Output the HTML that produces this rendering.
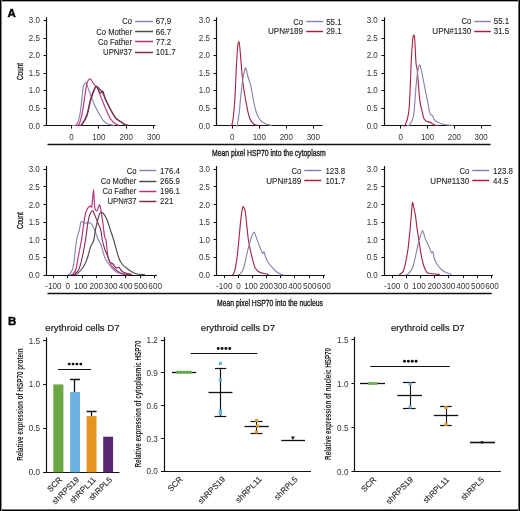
<!DOCTYPE html><html><head><meta charset="utf-8"><style>html,body{margin:0;padding:0;background:#fff;overflow:hidden}svg{display:block;will-change:transform}</style></head><body>
<svg width="520" height="511" viewBox="0 0 520 511" style="font-family:'Liberation Sans',sans-serif">
<rect x="0" y="0" width="520" height="511" fill="#fff"/>
<text x="7.4" y="17" font-size="11.5" font-weight="bold" fill="#000" stroke="#000" stroke-width="0.35">A</text>
<line x1="46.50" y1="17.30" x2="46.50" y2="125.60" stroke="#111" stroke-width="1.2"/>
<line x1="45.90" y1="125.50" x2="155.50" y2="125.50" stroke="#111" stroke-width="1.2"/>
<line x1="43.50" y1="125.50" x2="46.50" y2="125.50" stroke="#111" stroke-width="1"/>
<text transform="translate(39.90,128.50) scale(0.93,1)" text-anchor="end" font-size="8.6" fill="#333" >0.0</text>
<line x1="43.50" y1="108.50" x2="46.50" y2="108.50" stroke="#111" stroke-width="1"/>
<text transform="translate(39.90,110.98) scale(0.93,1)" text-anchor="end" font-size="8.6" fill="#333" >0.5</text>
<line x1="43.50" y1="90.50" x2="46.50" y2="90.50" stroke="#111" stroke-width="1"/>
<text transform="translate(39.90,93.47) scale(0.93,1)" text-anchor="end" font-size="8.6" fill="#333" >1.0</text>
<line x1="43.50" y1="73.50" x2="46.50" y2="73.50" stroke="#111" stroke-width="1"/>
<text transform="translate(39.90,75.95) scale(0.93,1)" text-anchor="end" font-size="8.6" fill="#333" >1.5</text>
<line x1="43.50" y1="55.50" x2="46.50" y2="55.50" stroke="#111" stroke-width="1"/>
<text transform="translate(39.90,58.43) scale(0.93,1)" text-anchor="end" font-size="8.6" fill="#333" >2.0</text>
<line x1="43.50" y1="38.50" x2="46.50" y2="38.50" stroke="#111" stroke-width="1"/>
<text transform="translate(39.90,40.92) scale(0.93,1)" text-anchor="end" font-size="8.6" fill="#333" >2.5</text>
<line x1="43.50" y1="20.50" x2="46.50" y2="20.50" stroke="#111" stroke-width="1"/>
<text transform="translate(39.90,23.40) scale(0.93,1)" text-anchor="end" font-size="8.6" fill="#333" >3.0</text>
<line x1="71.50" y1="125.60" x2="71.50" y2="128.60" stroke="#111" stroke-width="1"/>
<text transform="translate(71.40,139.60) scale(0.93,1)" text-anchor="middle" font-size="8.6" fill="#333" >0</text>
<line x1="98.50" y1="125.60" x2="98.50" y2="128.60" stroke="#111" stroke-width="1"/>
<text transform="translate(98.80,139.60) scale(0.93,1)" text-anchor="middle" font-size="8.6" fill="#333" >100</text>
<line x1="126.50" y1="125.60" x2="126.50" y2="128.60" stroke="#111" stroke-width="1"/>
<text transform="translate(126.20,139.60) scale(0.93,1)" text-anchor="middle" font-size="8.6" fill="#333" >200</text>
<line x1="153.50" y1="125.60" x2="153.50" y2="128.60" stroke="#111" stroke-width="1"/>
<text transform="translate(153.60,139.60) scale(0.93,1)" text-anchor="middle" font-size="8.6" fill="#333" >300</text>
<line x1="216.50" y1="17.30" x2="216.50" y2="125.60" stroke="#111" stroke-width="1.2"/>
<line x1="215.90" y1="125.50" x2="322.50" y2="125.50" stroke="#111" stroke-width="1.2"/>
<line x1="213.50" y1="125.50" x2="216.50" y2="125.50" stroke="#111" stroke-width="1"/>
<text transform="translate(209.90,128.50) scale(0.93,1)" text-anchor="end" font-size="8.6" fill="#333" >0.0</text>
<line x1="213.50" y1="108.50" x2="216.50" y2="108.50" stroke="#111" stroke-width="1"/>
<text transform="translate(209.90,110.98) scale(0.93,1)" text-anchor="end" font-size="8.6" fill="#333" >0.5</text>
<line x1="213.50" y1="90.50" x2="216.50" y2="90.50" stroke="#111" stroke-width="1"/>
<text transform="translate(209.90,93.47) scale(0.93,1)" text-anchor="end" font-size="8.6" fill="#333" >1.0</text>
<line x1="213.50" y1="73.50" x2="216.50" y2="73.50" stroke="#111" stroke-width="1"/>
<text transform="translate(209.90,75.95) scale(0.93,1)" text-anchor="end" font-size="8.6" fill="#333" >1.5</text>
<line x1="213.50" y1="55.50" x2="216.50" y2="55.50" stroke="#111" stroke-width="1"/>
<text transform="translate(209.90,58.43) scale(0.93,1)" text-anchor="end" font-size="8.6" fill="#333" >2.0</text>
<line x1="213.50" y1="38.50" x2="216.50" y2="38.50" stroke="#111" stroke-width="1"/>
<text transform="translate(209.90,40.92) scale(0.93,1)" text-anchor="end" font-size="8.6" fill="#333" >2.5</text>
<line x1="213.50" y1="20.50" x2="216.50" y2="20.50" stroke="#111" stroke-width="1"/>
<text transform="translate(209.90,23.40) scale(0.93,1)" text-anchor="end" font-size="8.6" fill="#333" >3.0</text>
<line x1="232.50" y1="125.60" x2="232.50" y2="128.60" stroke="#111" stroke-width="1"/>
<text transform="translate(232.30,139.60) scale(0.93,1)" text-anchor="middle" font-size="8.6" fill="#333" >0</text>
<line x1="259.50" y1="125.60" x2="259.50" y2="128.60" stroke="#111" stroke-width="1"/>
<text transform="translate(259.30,139.60) scale(0.93,1)" text-anchor="middle" font-size="8.6" fill="#333" >100</text>
<line x1="286.50" y1="125.60" x2="286.50" y2="128.60" stroke="#111" stroke-width="1"/>
<text transform="translate(286.30,139.60) scale(0.93,1)" text-anchor="middle" font-size="8.6" fill="#333" >200</text>
<line x1="313.50" y1="125.60" x2="313.50" y2="128.60" stroke="#111" stroke-width="1"/>
<text transform="translate(313.30,139.60) scale(0.93,1)" text-anchor="middle" font-size="8.6" fill="#333" >300</text>
<line x1="384.50" y1="17.30" x2="384.50" y2="125.60" stroke="#111" stroke-width="1.2"/>
<line x1="383.80" y1="125.50" x2="491.25" y2="125.50" stroke="#111" stroke-width="1.2"/>
<line x1="381.40" y1="125.50" x2="384.40" y2="125.50" stroke="#111" stroke-width="1"/>
<text transform="translate(377.80,128.50) scale(0.93,1)" text-anchor="end" font-size="8.6" fill="#333" >0.0</text>
<line x1="381.40" y1="108.50" x2="384.40" y2="108.50" stroke="#111" stroke-width="1"/>
<text transform="translate(377.80,110.98) scale(0.93,1)" text-anchor="end" font-size="8.6" fill="#333" >0.5</text>
<line x1="381.40" y1="90.50" x2="384.40" y2="90.50" stroke="#111" stroke-width="1"/>
<text transform="translate(377.80,93.47) scale(0.93,1)" text-anchor="end" font-size="8.6" fill="#333" >1.0</text>
<line x1="381.40" y1="73.50" x2="384.40" y2="73.50" stroke="#111" stroke-width="1"/>
<text transform="translate(377.80,75.95) scale(0.93,1)" text-anchor="end" font-size="8.6" fill="#333" >1.5</text>
<line x1="381.40" y1="55.50" x2="384.40" y2="55.50" stroke="#111" stroke-width="1"/>
<text transform="translate(377.80,58.43) scale(0.93,1)" text-anchor="end" font-size="8.6" fill="#333" >2.0</text>
<line x1="381.40" y1="38.50" x2="384.40" y2="38.50" stroke="#111" stroke-width="1"/>
<text transform="translate(377.80,40.92) scale(0.93,1)" text-anchor="end" font-size="8.6" fill="#333" >2.5</text>
<line x1="381.40" y1="20.50" x2="384.40" y2="20.50" stroke="#111" stroke-width="1"/>
<text transform="translate(377.80,23.40) scale(0.93,1)" text-anchor="end" font-size="8.6" fill="#333" >3.0</text>
<line x1="400.50" y1="125.60" x2="400.50" y2="128.60" stroke="#111" stroke-width="1"/>
<text transform="translate(400.75,139.60) scale(0.93,1)" text-anchor="middle" font-size="8.6" fill="#333" >0</text>
<line x1="427.50" y1="125.60" x2="427.50" y2="128.60" stroke="#111" stroke-width="1"/>
<text transform="translate(427.55,139.60) scale(0.93,1)" text-anchor="middle" font-size="8.6" fill="#333" >100</text>
<line x1="454.50" y1="125.60" x2="454.50" y2="128.60" stroke="#111" stroke-width="1"/>
<text transform="translate(454.35,139.60) scale(0.93,1)" text-anchor="middle" font-size="8.6" fill="#333" >200</text>
<line x1="481.50" y1="125.60" x2="481.50" y2="128.60" stroke="#111" stroke-width="1"/>
<text transform="translate(481.15,139.60) scale(0.93,1)" text-anchor="middle" font-size="8.6" fill="#333" >300</text>
<line x1="46.50" y1="166.00" x2="46.50" y2="275.20" stroke="#111" stroke-width="1.2"/>
<line x1="45.80" y1="275.50" x2="157.00" y2="275.50" stroke="#111" stroke-width="1.2"/>
<line x1="43.40" y1="275.50" x2="46.40" y2="275.50" stroke="#111" stroke-width="1"/>
<text transform="translate(39.80,278.10) scale(0.93,1)" text-anchor="end" font-size="8.6" fill="#333" >0.0</text>
<line x1="43.40" y1="257.50" x2="46.40" y2="257.50" stroke="#111" stroke-width="1"/>
<text transform="translate(39.80,260.45) scale(0.93,1)" text-anchor="end" font-size="8.6" fill="#333" >0.5</text>
<line x1="43.40" y1="239.50" x2="46.40" y2="239.50" stroke="#111" stroke-width="1"/>
<text transform="translate(39.80,242.80) scale(0.93,1)" text-anchor="end" font-size="8.6" fill="#333" >1.0</text>
<line x1="43.40" y1="222.50" x2="46.40" y2="222.50" stroke="#111" stroke-width="1"/>
<text transform="translate(39.80,225.15) scale(0.93,1)" text-anchor="end" font-size="8.6" fill="#333" >1.5</text>
<line x1="43.40" y1="204.50" x2="46.40" y2="204.50" stroke="#111" stroke-width="1"/>
<text transform="translate(39.80,207.50) scale(0.93,1)" text-anchor="end" font-size="8.6" fill="#333" >2.0</text>
<line x1="43.40" y1="186.50" x2="46.40" y2="186.50" stroke="#111" stroke-width="1"/>
<text transform="translate(39.80,189.85) scale(0.93,1)" text-anchor="end" font-size="8.6" fill="#333" >2.5</text>
<line x1="43.40" y1="169.50" x2="46.40" y2="169.50" stroke="#111" stroke-width="1"/>
<text transform="translate(39.80,172.20) scale(0.93,1)" text-anchor="end" font-size="8.6" fill="#333" >3.0</text>
<line x1="53.50" y1="275.20" x2="53.50" y2="278.20" stroke="#111" stroke-width="1"/>
<text transform="translate(53.40,289.00) scale(0.95,1)" text-anchor="middle" font-size="8.6" fill="#333" >-100</text>
<line x1="67.50" y1="275.20" x2="67.50" y2="278.20" stroke="#111" stroke-width="1"/>
<text transform="translate(67.85,289.00) scale(0.95,1)" text-anchor="middle" font-size="8.6" fill="#333" >0</text>
<line x1="82.50" y1="275.20" x2="82.50" y2="278.20" stroke="#111" stroke-width="1"/>
<text transform="translate(80.70,289.00) scale(0.95,1)" text-anchor="middle" font-size="8.6" fill="#333" >100</text>
<line x1="96.50" y1="275.20" x2="96.50" y2="278.20" stroke="#111" stroke-width="1"/>
<text transform="translate(96.25,289.00) scale(0.95,1)" text-anchor="middle" font-size="8.6" fill="#333" >200</text>
<line x1="111.50" y1="275.20" x2="111.50" y2="278.20" stroke="#111" stroke-width="1"/>
<text transform="translate(110.70,289.00) scale(0.95,1)" text-anchor="middle" font-size="8.6" fill="#333" >300</text>
<line x1="125.50" y1="275.20" x2="125.50" y2="278.20" stroke="#111" stroke-width="1"/>
<text transform="translate(125.65,289.00) scale(0.95,1)" text-anchor="middle" font-size="8.6" fill="#333" >400</text>
<line x1="140.50" y1="275.20" x2="140.50" y2="278.20" stroke="#111" stroke-width="1"/>
<text transform="translate(140.70,289.00) scale(0.95,1)" text-anchor="middle" font-size="8.6" fill="#333" >500</text>
<line x1="154.50" y1="275.20" x2="154.50" y2="278.20" stroke="#111" stroke-width="1"/>
<text transform="translate(155.15,289.00) scale(0.95,1)" text-anchor="middle" font-size="8.6" fill="#333" >600</text>
<line x1="216.50" y1="166.00" x2="216.50" y2="275.20" stroke="#111" stroke-width="1.2"/>
<line x1="216.00" y1="275.50" x2="325.00" y2="275.50" stroke="#111" stroke-width="1.2"/>
<line x1="213.60" y1="275.50" x2="216.60" y2="275.50" stroke="#111" stroke-width="1"/>
<text transform="translate(210.00,278.10) scale(0.93,1)" text-anchor="end" font-size="8.6" fill="#333" >0.0</text>
<line x1="213.60" y1="257.50" x2="216.60" y2="257.50" stroke="#111" stroke-width="1"/>
<text transform="translate(210.00,260.45) scale(0.93,1)" text-anchor="end" font-size="8.6" fill="#333" >0.5</text>
<line x1="213.60" y1="239.50" x2="216.60" y2="239.50" stroke="#111" stroke-width="1"/>
<text transform="translate(210.00,242.80) scale(0.93,1)" text-anchor="end" font-size="8.6" fill="#333" >1.0</text>
<line x1="213.60" y1="222.50" x2="216.60" y2="222.50" stroke="#111" stroke-width="1"/>
<text transform="translate(210.00,225.15) scale(0.93,1)" text-anchor="end" font-size="8.6" fill="#333" >1.5</text>
<line x1="213.60" y1="204.50" x2="216.60" y2="204.50" stroke="#111" stroke-width="1"/>
<text transform="translate(210.00,207.50) scale(0.93,1)" text-anchor="end" font-size="8.6" fill="#333" >2.0</text>
<line x1="213.60" y1="186.50" x2="216.60" y2="186.50" stroke="#111" stroke-width="1"/>
<text transform="translate(210.00,189.85) scale(0.93,1)" text-anchor="end" font-size="8.6" fill="#333" >2.5</text>
<line x1="213.60" y1="169.50" x2="216.60" y2="169.50" stroke="#111" stroke-width="1"/>
<text transform="translate(210.00,172.20) scale(0.93,1)" text-anchor="end" font-size="8.6" fill="#333" >3.0</text>
<line x1="224.50" y1="275.20" x2="224.50" y2="278.20" stroke="#111" stroke-width="1"/>
<text transform="translate(224.25,289.00) scale(0.95,1)" text-anchor="middle" font-size="8.6" fill="#333" >-100</text>
<line x1="238.50" y1="275.20" x2="238.50" y2="278.20" stroke="#111" stroke-width="1"/>
<text transform="translate(238.40,289.00) scale(0.95,1)" text-anchor="middle" font-size="8.6" fill="#333" >0</text>
<line x1="252.50" y1="275.20" x2="252.50" y2="278.20" stroke="#111" stroke-width="1"/>
<text transform="translate(250.95,289.00) scale(0.95,1)" text-anchor="middle" font-size="8.6" fill="#333" >100</text>
<line x1="266.50" y1="275.20" x2="266.50" y2="278.20" stroke="#111" stroke-width="1"/>
<text transform="translate(266.20,289.00) scale(0.95,1)" text-anchor="middle" font-size="8.6" fill="#333" >200</text>
<line x1="280.50" y1="275.20" x2="280.50" y2="278.20" stroke="#111" stroke-width="1"/>
<text transform="translate(280.35,289.00) scale(0.95,1)" text-anchor="middle" font-size="8.6" fill="#333" >300</text>
<line x1="294.50" y1="275.20" x2="294.50" y2="278.20" stroke="#111" stroke-width="1"/>
<text transform="translate(295.00,289.00) scale(0.95,1)" text-anchor="middle" font-size="8.6" fill="#333" >400</text>
<line x1="309.50" y1="275.20" x2="309.50" y2="278.20" stroke="#111" stroke-width="1"/>
<text transform="translate(309.75,289.00) scale(0.95,1)" text-anchor="middle" font-size="8.6" fill="#333" >500</text>
<line x1="323.50" y1="275.20" x2="323.50" y2="278.20" stroke="#111" stroke-width="1"/>
<text transform="translate(323.90,289.00) scale(0.95,1)" text-anchor="middle" font-size="8.6" fill="#333" >600</text>
<line x1="384.50" y1="166.00" x2="384.50" y2="275.20" stroke="#111" stroke-width="1.2"/>
<line x1="383.80" y1="275.50" x2="493.00" y2="275.50" stroke="#111" stroke-width="1.2"/>
<line x1="381.40" y1="275.50" x2="384.40" y2="275.50" stroke="#111" stroke-width="1"/>
<text transform="translate(377.80,278.10) scale(0.93,1)" text-anchor="end" font-size="8.6" fill="#333" >0.0</text>
<line x1="381.40" y1="257.50" x2="384.40" y2="257.50" stroke="#111" stroke-width="1"/>
<text transform="translate(377.80,260.45) scale(0.93,1)" text-anchor="end" font-size="8.6" fill="#333" >0.5</text>
<line x1="381.40" y1="239.50" x2="384.40" y2="239.50" stroke="#111" stroke-width="1"/>
<text transform="translate(377.80,242.80) scale(0.93,1)" text-anchor="end" font-size="8.6" fill="#333" >1.0</text>
<line x1="381.40" y1="222.50" x2="384.40" y2="222.50" stroke="#111" stroke-width="1"/>
<text transform="translate(377.80,225.15) scale(0.93,1)" text-anchor="end" font-size="8.6" fill="#333" >1.5</text>
<line x1="381.40" y1="204.50" x2="384.40" y2="204.50" stroke="#111" stroke-width="1"/>
<text transform="translate(377.80,207.50) scale(0.93,1)" text-anchor="end" font-size="8.6" fill="#333" >2.0</text>
<line x1="381.40" y1="186.50" x2="384.40" y2="186.50" stroke="#111" stroke-width="1"/>
<text transform="translate(377.80,189.85) scale(0.93,1)" text-anchor="end" font-size="8.6" fill="#333" >2.5</text>
<line x1="381.40" y1="169.50" x2="384.40" y2="169.50" stroke="#111" stroke-width="1"/>
<text transform="translate(377.80,172.20) scale(0.93,1)" text-anchor="end" font-size="8.6" fill="#333" >3.0</text>
<line x1="392.50" y1="275.20" x2="392.50" y2="278.20" stroke="#111" stroke-width="1"/>
<text transform="translate(392.10,289.00) scale(0.95,1)" text-anchor="middle" font-size="8.6" fill="#333" >-100</text>
<line x1="406.50" y1="275.20" x2="406.50" y2="278.20" stroke="#111" stroke-width="1"/>
<text transform="translate(406.30,289.00) scale(0.95,1)" text-anchor="middle" font-size="8.6" fill="#333" >0</text>
<line x1="420.50" y1="275.20" x2="420.50" y2="278.20" stroke="#111" stroke-width="1"/>
<text transform="translate(418.90,289.00) scale(0.95,1)" text-anchor="middle" font-size="8.6" fill="#333" >100</text>
<line x1="434.50" y1="275.20" x2="434.50" y2="278.20" stroke="#111" stroke-width="1"/>
<text transform="translate(434.20,289.00) scale(0.95,1)" text-anchor="middle" font-size="8.6" fill="#333" >200</text>
<line x1="448.50" y1="275.20" x2="448.50" y2="278.20" stroke="#111" stroke-width="1"/>
<text transform="translate(448.40,289.00) scale(0.95,1)" text-anchor="middle" font-size="8.6" fill="#333" >300</text>
<line x1="463.50" y1="275.20" x2="463.50" y2="278.20" stroke="#111" stroke-width="1"/>
<text transform="translate(463.10,289.00) scale(0.95,1)" text-anchor="middle" font-size="8.6" fill="#333" >400</text>
<line x1="477.50" y1="275.20" x2="477.50" y2="278.20" stroke="#111" stroke-width="1"/>
<text transform="translate(477.90,289.00) scale(0.95,1)" text-anchor="middle" font-size="8.6" fill="#333" >500</text>
<line x1="491.50" y1="275.20" x2="491.50" y2="278.20" stroke="#111" stroke-width="1"/>
<text transform="translate(492.10,289.00) scale(0.95,1)" text-anchor="middle" font-size="8.6" fill="#333" >600</text>
<text transform="translate(132.00,24.40) scale(0.89,1)" text-anchor="end" font-size="8.6" fill="#262626" stroke="#262626" stroke-width="0.12">Co</text>
<line x1="135.10" y1="21.50" x2="153.00" y2="21.50" stroke="#8884b0" stroke-width="1.5"/>
<text transform="translate(155.80,24.40) scale(0.92,1)" text-anchor="start" font-size="8.6" fill="#262626" stroke="#262626" stroke-width="0.12">67,9</text>
<text transform="translate(132.00,34.50) scale(0.89,1)" text-anchor="end" font-size="8.6" fill="#262626" stroke="#262626" stroke-width="0.12">Co Mother</text>
<line x1="135.10" y1="31.50" x2="153.00" y2="31.50" stroke="#4e4a55" stroke-width="1.5"/>
<text transform="translate(155.80,34.50) scale(0.92,1)" text-anchor="start" font-size="8.6" fill="#262626" stroke="#262626" stroke-width="0.12">66.7</text>
<text transform="translate(132.00,44.70) scale(0.89,1)" text-anchor="end" font-size="8.6" fill="#262626" stroke="#262626" stroke-width="0.12">Co Father</text>
<line x1="135.10" y1="41.50" x2="153.00" y2="41.50" stroke="#b8307a" stroke-width="1.5"/>
<text transform="translate(155.80,44.70) scale(0.92,1)" text-anchor="start" font-size="8.6" fill="#262626" stroke="#262626" stroke-width="0.12">77.2</text>
<text transform="translate(132.00,54.90) scale(0.89,1)" text-anchor="end" font-size="8.6" fill="#262626" stroke="#262626" stroke-width="0.12">UPN#37</text>
<line x1="135.10" y1="52.50" x2="153.00" y2="52.50" stroke="#7e2a50" stroke-width="1.5"/>
<text transform="translate(155.80,54.90) scale(0.92,1)" text-anchor="start" font-size="8.6" fill="#262626" stroke="#262626" stroke-width="0.12">101.7</text>
<text transform="translate(303.00,24.50) scale(0.89,1)" text-anchor="end" font-size="8.6" fill="#262626" stroke="#262626" stroke-width="0.12">Co</text>
<line x1="306.20" y1="21.50" x2="323.00" y2="21.50" stroke="#8884b0" stroke-width="1.5"/>
<text transform="translate(326.20,24.50) scale(0.92,1)" text-anchor="start" font-size="8.6" fill="#262626" stroke="#262626" stroke-width="0.12">55.1</text>
<text transform="translate(303.00,34.40) scale(0.94,1)" text-anchor="end" font-size="8.6" fill="#262626" stroke="#262626" stroke-width="0.12">UPN#189</text>
<line x1="306.20" y1="31.50" x2="323.00" y2="31.50" stroke="#a4213f" stroke-width="1.5"/>
<text transform="translate(326.20,34.40) scale(0.92,1)" text-anchor="start" font-size="8.6" fill="#262626" stroke="#262626" stroke-width="0.12">29.1</text>
<text transform="translate(471.20,24.40) scale(0.89,1)" text-anchor="end" font-size="8.6" fill="#262626" stroke="#262626" stroke-width="0.12">Co</text>
<line x1="474.20" y1="21.50" x2="490.80" y2="21.50" stroke="#8884b0" stroke-width="1.5"/>
<text transform="translate(493.80,24.40) scale(0.92,1)" text-anchor="start" font-size="8.6" fill="#262626" stroke="#262626" stroke-width="0.12">55.1</text>
<text transform="translate(471.20,34.40) scale(0.94,1)" text-anchor="end" font-size="8.6" fill="#262626" stroke="#262626" stroke-width="0.12">UPN#1130</text>
<line x1="474.20" y1="31.50" x2="490.80" y2="31.50" stroke="#a4213f" stroke-width="1.5"/>
<text transform="translate(493.80,34.40) scale(0.92,1)" text-anchor="start" font-size="8.6" fill="#262626" stroke="#262626" stroke-width="0.12">31.5</text>
<text transform="translate(136.40,173.60) scale(0.89,1)" text-anchor="end" font-size="8.6" fill="#262626" stroke="#262626" stroke-width="0.12">Co</text>
<line x1="139.30" y1="170.50" x2="156.30" y2="170.50" stroke="#8884b0" stroke-width="1.5"/>
<text transform="translate(160.10,173.60) scale(0.92,1)" text-anchor="start" font-size="8.6" fill="#262626" stroke="#262626" stroke-width="0.12">176.4</text>
<text transform="translate(136.40,184.10) scale(0.89,1)" text-anchor="end" font-size="8.6" fill="#262626" stroke="#262626" stroke-width="0.12">Co Mother</text>
<line x1="139.30" y1="181.50" x2="156.30" y2="181.50" stroke="#4e4a55" stroke-width="1.5"/>
<text transform="translate(160.10,184.10) scale(0.92,1)" text-anchor="start" font-size="8.6" fill="#262626" stroke="#262626" stroke-width="0.12">265.9</text>
<text transform="translate(136.40,194.10) scale(0.89,1)" text-anchor="end" font-size="8.6" fill="#262626" stroke="#262626" stroke-width="0.12">Co Father</text>
<line x1="139.30" y1="191.50" x2="156.30" y2="191.50" stroke="#b8307a" stroke-width="1.5"/>
<text transform="translate(160.10,194.10) scale(0.92,1)" text-anchor="start" font-size="8.6" fill="#262626" stroke="#262626" stroke-width="0.12">196.1</text>
<text transform="translate(136.40,204.10) scale(0.89,1)" text-anchor="end" font-size="8.6" fill="#262626" stroke="#262626" stroke-width="0.12">UPN#37</text>
<line x1="139.30" y1="201.50" x2="156.30" y2="201.50" stroke="#7e2a50" stroke-width="1.5"/>
<text transform="translate(160.10,204.10) scale(0.92,1)" text-anchor="start" font-size="8.6" fill="#262626" stroke="#262626" stroke-width="0.12">221</text>
<text transform="translate(301.20,173.70) scale(0.89,1)" text-anchor="end" font-size="8.6" fill="#262626" stroke="#262626" stroke-width="0.12">Co</text>
<line x1="304.30" y1="170.50" x2="321.20" y2="170.50" stroke="#8884b0" stroke-width="1.5"/>
<text transform="translate(325.40,173.70) scale(0.92,1)" text-anchor="start" font-size="8.6" fill="#262626" stroke="#262626" stroke-width="0.12">123.8</text>
<text transform="translate(301.20,183.50) scale(0.94,1)" text-anchor="end" font-size="8.6" fill="#262626" stroke="#262626" stroke-width="0.12">UPN#189</text>
<line x1="304.30" y1="180.50" x2="321.20" y2="180.50" stroke="#a4213f" stroke-width="1.5"/>
<text transform="translate(325.40,183.50) scale(0.92,1)" text-anchor="start" font-size="8.6" fill="#262626" stroke="#262626" stroke-width="0.12">101.7</text>
<text transform="translate(469.20,173.70) scale(0.89,1)" text-anchor="end" font-size="8.6" fill="#262626" stroke="#262626" stroke-width="0.12">Co</text>
<line x1="472.30" y1="170.50" x2="489.20" y2="170.50" stroke="#8884b0" stroke-width="1.5"/>
<text transform="translate(493.10,173.70) scale(0.92,1)" text-anchor="start" font-size="8.6" fill="#262626" stroke="#262626" stroke-width="0.12">123.8</text>
<text transform="translate(469.20,183.50) scale(0.94,1)" text-anchor="end" font-size="8.6" fill="#262626" stroke="#262626" stroke-width="0.12">UPN#1130</text>
<line x1="472.30" y1="180.50" x2="489.20" y2="180.50" stroke="#a4213f" stroke-width="1.5"/>
<text transform="translate(493.10,183.50) scale(0.92,1)" text-anchor="start" font-size="8.6" fill="#262626" stroke="#262626" stroke-width="0.12">44.5</text>
<path d="M72.00,125.40 C72.77,125.27 75.32,126.22 76.60,124.60 C77.88,122.98 78.85,119.73 79.70,115.70 C80.55,111.67 81.12,105.15 81.70,100.40 C82.28,95.65 82.60,90.17 83.20,87.20 C83.80,84.23 84.70,83.02 85.30,82.60 C85.90,82.18 85.95,82.75 86.80,84.70 C87.65,86.65 89.13,91.00 90.40,94.30 C91.67,97.60 92.88,101.10 94.40,104.50 C95.92,107.90 97.97,111.98 99.50,114.70 C101.03,117.42 102.18,119.25 103.60,120.80 C105.02,122.35 106.27,123.23 108.00,124.00 C109.73,124.77 113.00,125.17 114.00,125.40" fill="none" stroke="#8884b0" stroke-width="1.15" stroke-linejoin="round"/>
<path d="M80.00,125.40 C80.33,125.27 80.83,126.22 82.00,124.60 C83.17,122.98 85.50,119.90 87.00,115.70 C88.50,111.50 89.67,103.98 91.00,99.40 C92.33,94.82 94.00,90.35 95.00,88.20 C96.00,86.05 96.25,86.37 97.00,86.50 C97.75,86.63 98.62,88.03 99.50,89.00 C100.38,89.97 101.18,90.33 102.30,92.30 C103.42,94.27 104.78,97.85 106.20,100.80 C107.62,103.75 109.27,107.18 110.80,110.00 C112.33,112.82 113.62,115.65 115.40,117.70 C117.18,119.75 119.97,121.18 121.50,122.30 C123.03,123.42 123.52,123.88 124.60,124.40 C125.68,124.92 127.43,125.23 128.00,125.40" fill="none" stroke="#4e4a55" stroke-width="1.15" stroke-linejoin="round"/>
<path d="M75.00,125.40 C75.62,125.27 77.58,126.22 78.70,124.60 C79.82,122.98 80.78,119.73 81.70,115.70 C82.62,111.67 83.35,105.65 84.20,100.40 C85.05,95.15 85.95,87.75 86.80,84.20 C87.65,80.65 88.53,79.78 89.30,79.10 C90.07,78.42 90.55,79.12 91.40,80.10 C92.25,81.08 93.48,83.87 94.40,85.00 C95.32,86.13 95.97,85.30 96.90,86.90 C97.83,88.50 98.45,90.75 100.00,94.60 C101.55,98.45 104.40,105.90 106.20,110.00 C108.00,114.10 109.27,116.90 110.80,119.20 C112.33,121.50 114.03,122.77 115.40,123.80 C116.77,124.83 118.40,125.13 119.00,125.40" fill="none" stroke="#b8307a" stroke-width="1.15" stroke-linejoin="round"/>
<path d="M79.00,125.40 C79.42,125.27 80.25,126.22 81.50,124.60 C82.75,122.98 85.00,119.90 86.50,115.70 C88.00,111.50 89.17,103.93 90.50,99.40 C91.83,94.87 93.50,90.60 94.50,88.50 C95.50,86.40 95.78,86.47 96.50,86.80 C97.22,87.13 98.22,89.50 98.80,90.50 C99.38,91.50 99.55,92.45 100.00,92.80 C100.45,93.15 101.03,92.87 101.50,92.60 C101.97,92.33 102.30,90.63 102.80,91.20 C103.30,91.77 103.93,94.40 104.50,96.00 C105.07,97.60 105.15,98.47 106.20,100.80 C107.25,103.13 109.27,107.18 110.80,110.00 C112.33,112.82 114.20,116.03 115.40,117.70 C116.60,119.37 116.98,119.23 118.00,120.00 C119.02,120.77 120.40,121.60 121.50,122.30 C122.60,123.00 123.35,123.68 124.60,124.20 C125.85,124.72 128.27,125.20 129.00,125.40" fill="none" stroke="#7e2a50" stroke-width="1.2" stroke-linejoin="round"/>
<path d="M230.00,125.40 C230.32,125.30 231.33,126.32 231.90,124.80 C232.47,123.28 232.88,120.92 233.40,116.30 C233.92,111.68 234.52,105.08 235.00,97.10 C235.48,89.12 235.87,76.70 236.30,68.40 C236.73,60.10 237.22,51.72 237.60,47.30 C237.98,42.88 238.27,42.23 238.60,41.90 C238.93,41.57 239.18,41.85 239.60,45.30 C240.02,48.75 240.60,56.83 241.10,62.60 C241.60,68.37 242.03,74.78 242.60,79.90 C243.17,85.02 243.78,88.83 244.50,93.30 C245.22,97.77 246.03,102.55 246.90,106.70 C247.77,110.85 248.58,115.32 249.70,118.20 C250.82,121.08 252.15,122.80 253.60,124.00 C255.05,125.20 257.60,125.17 258.40,125.40" fill="none" stroke="#a4213f" stroke-width="1.1" stroke-linejoin="round"/>
<path d="M236.00,125.40 C236.22,125.30 236.77,126.95 237.30,124.80 C237.83,122.65 238.57,117.75 239.20,112.50 C239.83,107.25 240.47,99.05 241.10,93.30 C241.73,87.55 242.37,82.00 243.00,78.00 C243.63,74.00 244.42,70.90 244.90,69.30 C245.38,67.70 245.42,67.28 245.90,68.40 C246.38,69.52 247.00,73.13 247.80,76.00 C248.60,78.87 249.73,81.43 250.70,85.60 C251.67,89.77 252.65,96.52 253.60,101.00 C254.55,105.48 255.28,109.32 256.40,112.50 C257.52,115.68 258.70,118.18 260.30,120.10 C261.90,122.02 264.08,123.12 266.00,124.00 C267.92,124.88 270.83,125.17 271.80,125.40" fill="none" stroke="#8884b0" stroke-width="1.15" stroke-linejoin="round"/>
<path d="M403.00,125.40 C403.38,125.33 404.37,127.03 405.30,125.00 C406.23,122.97 407.82,118.50 408.60,113.20 C409.38,107.90 409.55,102.07 410.00,93.20 C410.45,84.33 410.88,68.53 411.30,60.00 C411.72,51.47 412.12,46.13 412.50,42.00 C412.88,37.87 413.23,35.70 413.60,35.20 C413.97,34.70 414.30,34.42 414.70,39.00 C415.10,43.58 415.57,57.43 416.00,62.70 C416.43,67.97 416.87,66.62 417.30,70.60 C417.73,74.58 418.17,81.50 418.60,86.60 C419.03,91.70 419.35,97.22 419.90,101.20 C420.45,105.18 421.23,107.62 421.90,110.50 C422.57,113.38 423.12,116.72 423.90,118.50 C424.68,120.28 425.48,120.53 426.60,121.20 C427.72,121.87 429.27,121.87 430.60,122.50 C431.93,123.13 433.37,124.52 434.60,125.00 C435.83,125.48 437.43,125.33 438.00,125.40" fill="none" stroke="#a4213f" stroke-width="1.1" stroke-linejoin="round"/>
<path d="M407.00,125.40 C407.38,125.33 408.25,126.37 409.30,125.00 C410.35,123.63 412.30,122.05 413.30,117.20 C414.30,112.35 414.75,102.10 415.30,95.90 C415.85,89.70 416.15,84.32 416.60,80.00 C417.05,75.68 417.43,72.45 418.00,70.00 C418.57,67.55 419.12,63.63 420.00,65.30 C420.88,66.97 422.32,75.35 423.30,80.00 C424.28,84.65 425.13,89.43 425.90,93.20 C426.67,96.97 427.23,99.27 427.90,102.60 C428.57,105.93 429.12,110.98 429.90,113.20 C430.68,115.42 431.82,114.80 432.60,115.90 C433.38,117.00 433.60,118.70 434.60,119.80 C435.60,120.90 437.05,121.72 438.60,122.50 C440.15,123.28 441.92,124.05 443.90,124.50 C445.88,124.95 448.98,125.05 450.50,125.20 C452.02,125.35 452.58,125.37 453.00,125.40" fill="none" stroke="#8884b0" stroke-width="1.15" stroke-linejoin="round"/>
<path d="M68.00,274.60 C68.33,274.47 69.23,274.73 70.00,273.80 C70.77,272.87 71.93,270.97 72.60,269.00 C73.27,267.03 73.33,266.83 74.00,262.00 C74.67,257.17 75.72,245.30 76.60,240.00 C77.48,234.70 78.58,233.18 79.30,230.20 C80.02,227.22 80.27,223.45 80.90,222.10 C81.53,220.75 82.28,221.92 83.10,222.10 C83.92,222.28 84.82,223.12 85.80,223.20 C86.78,223.28 88.12,222.52 89.00,222.60 C89.88,222.68 90.38,222.98 91.10,223.70 C91.82,224.42 92.48,225.28 93.30,226.90 C94.12,228.52 95.30,231.55 96.00,233.40 C96.70,235.25 96.67,236.07 97.50,238.00 C98.33,239.93 99.82,241.83 101.00,245.00 C102.18,248.17 103.43,254.00 104.60,257.00 C105.77,260.00 106.47,260.83 108.00,263.00 C109.53,265.17 111.80,268.25 113.80,270.00 C115.80,271.75 117.63,272.73 120.00,273.50 C122.37,274.27 126.67,274.42 128.00,274.60" fill="none" stroke="#8884b0" stroke-width="1.15" stroke-linejoin="round"/>
<path d="M74.00,274.60 C74.50,274.47 75.83,274.57 77.00,273.80 C78.17,273.03 79.67,271.63 81.00,270.00 C82.33,268.37 83.88,266.17 85.00,264.00 C86.12,261.83 86.78,259.83 87.70,257.00 C88.62,254.17 89.48,249.83 90.50,247.00 C91.52,244.17 92.98,242.80 93.80,240.00 C94.62,237.20 94.77,233.45 95.40,230.20 C96.03,226.95 96.88,223.28 97.60,220.50 C98.32,217.72 98.98,214.85 99.70,213.50 C100.42,212.15 101.08,212.13 101.90,212.40 C102.72,212.67 103.70,213.75 104.60,215.10 C105.50,216.45 106.32,217.98 107.30,220.50 C108.28,223.02 109.43,226.95 110.50,230.20 C111.57,233.45 112.37,235.53 113.70,240.00 C115.03,244.47 117.12,253.00 118.50,257.00 C119.88,261.00 120.25,261.83 122.00,264.00 C123.75,266.17 126.67,268.37 129.00,270.00 C131.33,271.63 133.33,273.03 136.00,273.80 C138.67,274.57 143.50,274.47 145.00,274.60" fill="none" stroke="#4e4a55" stroke-width="1.15" stroke-linejoin="round"/>
<path d="M71.00,274.60 C71.33,274.47 72.17,274.73 73.00,273.80 C73.83,272.87 75.13,271.80 76.00,269.00 C76.87,266.20 77.28,261.83 78.20,257.00 C79.12,252.17 80.42,246.62 81.50,240.00 C82.58,233.38 83.82,222.35 84.70,217.30 C85.58,212.25 85.90,211.58 86.80,209.70 C87.70,207.82 89.28,206.45 90.10,206.00 C90.92,205.55 91.27,208.35 91.70,207.00 C92.13,205.65 92.40,200.77 92.70,197.90 C93.00,195.03 93.27,189.80 93.50,189.80 C93.73,189.80 93.87,194.85 94.10,197.90 C94.33,200.95 94.42,205.95 94.90,208.10 C95.38,210.25 96.37,211.07 97.00,210.80 C97.63,210.53 98.25,207.48 98.70,206.50 C99.15,205.52 99.35,204.37 99.70,204.90 C100.05,205.43 100.35,207.28 100.80,209.70 C101.25,212.12 101.95,216.35 102.40,219.40 C102.85,222.45 103.13,225.13 103.50,228.00 C103.87,230.87 104.18,234.60 104.60,236.60 C105.02,238.60 105.43,236.60 106.00,240.00 C106.57,243.40 107.17,252.83 108.00,257.00 C108.83,261.17 109.67,262.83 111.00,265.00 C112.33,267.17 114.17,268.57 116.00,270.00 C117.83,271.43 119.67,272.83 122.00,273.60 C124.33,274.37 128.67,274.43 130.00,274.60" fill="none" stroke="#b8307a" stroke-width="1.15" stroke-linejoin="round"/>
<path d="M73.00,274.60 C73.33,274.47 74.00,274.73 75.00,273.80 C76.00,272.87 77.78,271.80 79.00,269.00 C80.22,266.20 81.22,261.83 82.30,257.00 C83.38,252.17 84.55,245.83 85.50,240.00 C86.45,234.17 87.28,226.25 88.00,222.00 C88.72,217.75 89.28,216.18 89.80,214.50 C90.32,212.82 90.62,212.52 91.10,211.90 C91.58,211.28 92.15,210.45 92.70,210.80 C93.25,211.15 93.77,212.57 94.40,214.00 C95.03,215.43 95.78,217.60 96.50,219.40 C97.22,221.20 97.98,223.00 98.70,224.80 C99.42,226.60 100.20,227.67 100.80,230.20 C101.40,232.73 101.60,236.70 102.30,240.00 C103.00,243.30 104.05,247.17 105.00,250.00 C105.95,252.83 107.17,255.00 108.00,257.00 C108.83,259.00 109.17,260.83 110.00,262.00 C110.83,263.17 112.00,263.00 113.00,264.00 C114.00,265.00 115.00,267.42 116.00,268.00 C117.00,268.58 117.83,266.83 119.00,267.50 C120.17,268.17 120.83,270.82 123.00,272.00 C125.17,273.18 130.50,274.17 132.00,274.60" fill="none" stroke="#7e2a50" stroke-width="1.1" stroke-linejoin="round"/>
<path d="M232.50,275.00 C232.78,274.58 233.70,273.83 234.20,272.50 C234.70,271.17 235.03,269.42 235.50,267.00 C235.97,264.58 236.50,261.88 237.00,258.00 C237.50,254.12 237.87,250.10 238.50,243.70 C239.13,237.30 240.17,225.38 240.80,219.60 C241.43,213.82 241.87,211.13 242.30,209.00 C242.73,206.87 242.90,206.30 243.40,206.80 C243.90,207.30 244.73,208.87 245.30,212.00 C245.87,215.13 246.30,221.08 246.80,225.60 C247.30,230.12 247.67,234.83 248.30,239.10 C248.93,243.37 249.85,247.68 250.60,251.20 C251.35,254.72 252.05,257.45 252.80,260.20 C253.55,262.95 253.97,265.68 255.10,267.70 C256.23,269.72 257.85,271.28 259.60,272.30 C261.35,273.32 264.08,273.42 265.60,273.80 C267.12,274.18 268.18,274.47 268.70,274.60" fill="none" stroke="#a4213f" stroke-width="1.1" stroke-linejoin="round"/>
<path d="M238.00,274.60 C238.35,274.50 239.13,275.15 240.10,274.00 C241.07,272.85 242.68,271.00 243.80,267.70 C244.92,264.40 245.92,257.95 246.80,254.20 C247.68,250.45 248.35,247.97 249.10,245.20 C249.85,242.43 250.55,239.73 251.30,237.60 C252.05,235.47 252.97,233.02 253.60,232.40 C254.23,231.78 254.47,232.53 255.10,233.90 C255.73,235.27 256.52,238.22 257.40,240.60 C258.28,242.98 259.53,246.07 260.40,248.20 C261.27,250.33 261.98,252.78 262.60,253.40 C263.22,254.02 263.60,251.27 264.10,251.90 C264.60,252.53 264.83,255.32 265.60,257.20 C266.37,259.08 267.43,261.32 268.70,263.20 C269.97,265.08 271.90,267.07 273.20,268.50 C274.50,269.93 275.28,270.88 276.50,271.80 C277.72,272.72 279.25,273.47 280.50,274.00 C281.75,274.53 283.42,274.83 284.00,275.00" fill="none" stroke="#8884b0" stroke-width="1.15" stroke-linejoin="round"/>
<path d="M399.00,274.60 C399.25,274.50 399.75,274.63 400.50,274.00 C401.25,273.37 402.62,272.85 403.50,270.80 C404.38,268.75 405.03,265.47 405.80,261.70 C406.57,257.93 407.35,253.97 408.10,248.20 C408.85,242.43 409.68,233.63 410.30,227.10 C410.92,220.57 411.42,213.13 411.80,209.00 C412.18,204.87 412.22,202.30 412.60,202.30 C412.98,202.30 413.60,206.62 414.10,209.00 C414.60,211.38 415.10,213.33 415.60,216.60 C416.10,219.87 416.47,224.08 417.10,228.60 C417.73,233.12 418.65,238.93 419.40,243.70 C420.15,248.47 420.85,253.45 421.60,257.20 C422.35,260.95 423.02,263.68 423.90,266.20 C424.78,268.72 425.78,271.08 426.90,272.30 C428.02,273.52 428.47,273.12 430.60,273.50 C432.73,273.88 438.18,274.42 439.70,274.60" fill="none" stroke="#a4213f" stroke-width="1.1" stroke-linejoin="round"/>
<path d="M406.00,274.60 C406.35,274.50 407.00,275.15 408.10,274.00 C409.20,272.85 411.35,270.75 412.60,267.70 C413.85,264.65 414.60,259.95 415.60,255.70 C416.60,251.45 417.60,246.08 418.60,242.20 C419.60,238.32 420.85,234.17 421.60,232.40 C422.35,230.63 422.47,230.48 423.10,231.60 C423.73,232.72 424.52,236.83 425.40,239.10 C426.28,241.37 427.40,242.93 428.40,245.20 C429.40,247.47 430.65,251.58 431.40,252.70 C432.15,253.82 432.40,250.90 432.90,251.90 C433.40,252.90 433.65,256.57 434.40,258.70 C435.15,260.83 436.15,262.82 437.40,264.70 C438.65,266.58 440.27,268.62 441.90,270.00 C443.53,271.38 445.57,272.23 447.20,273.00 C448.83,273.77 450.95,274.33 451.70,274.60" fill="none" stroke="#8884b0" stroke-width="1.15" stroke-linejoin="round"/>
<line x1="47.50" y1="144.50" x2="490.50" y2="144.50" stroke="#111" stroke-width="1.3"/>
<line x1="47.50" y1="293.50" x2="491.70" y2="293.50" stroke="#111" stroke-width="1.3"/>
<text x="212" y="156" font-size="9.2" fill="#1a1a1a" stroke="#1a1a1a" stroke-width="0.35" textLength="113.6" lengthAdjust="spacingAndGlyphs">Mean pixel HSP70 into the cytoplasm</text>
<text x="217" y="305.6" font-size="9.2" fill="#1a1a1a" stroke="#1a1a1a" stroke-width="0.35" textLength="106" lengthAdjust="spacingAndGlyphs">Mean pixel HSP70 into the nucleus</text>
<text transform="translate(23.4,71.5) rotate(-90)" text-anchor="middle" font-size="9.6" fill="#222" stroke="#222" stroke-width="0.35" textLength="17" lengthAdjust="spacingAndGlyphs">Count</text>
<text transform="translate(23.4,220.6) rotate(-90)" text-anchor="middle" font-size="9.6" fill="#222" stroke="#222" stroke-width="0.35" textLength="17" lengthAdjust="spacingAndGlyphs">Count</text>
<text x="8" y="325.2" font-size="11.5" font-weight="bold" fill="#000" stroke="#000" stroke-width="0.35">B</text>
<line x1="46.50" y1="337.30" x2="46.50" y2="472.30" stroke="#111" stroke-width="1.2"/>
<line x1="46.00" y1="472.50" x2="119.50" y2="472.50" stroke="#111" stroke-width="1.2"/>
<line x1="43.10" y1="472.50" x2="46.60" y2="472.50" stroke="#111" stroke-width="1"/>
<text x="40.1" y="475.30" text-anchor="end" font-size="8.2" fill="#333">0.0</text>
<line x1="43.10" y1="428.50" x2="46.60" y2="428.50" stroke="#111" stroke-width="1"/>
<text x="40.1" y="431.37" text-anchor="end" font-size="8.2" fill="#333">0.5</text>
<line x1="43.10" y1="384.50" x2="46.60" y2="384.50" stroke="#111" stroke-width="1"/>
<text x="40.1" y="387.43" text-anchor="end" font-size="8.2" fill="#333">1.0</text>
<line x1="43.10" y1="340.50" x2="46.60" y2="340.50" stroke="#111" stroke-width="1"/>
<text x="40.1" y="343.50" text-anchor="end" font-size="8.2" fill="#333">1.5</text>
<text x="45.3" y="331.2" font-size="8.8" fill="#1e1e1e" stroke="#1e1e1e" stroke-width="0.2" textLength="74.3" lengthAdjust="spacingAndGlyphs">erythroid cells D7</text>
<rect x="53.3" y="384.43" width="10.10" height="87.87" fill="#69a845"/>
<rect x="70.1" y="391.90" width="9.90" height="80.40" fill="#6cb0e2"/>
<rect x="86.6" y="416.07" width="9.90" height="56.23" fill="#e4951f"/>
<rect x="103.2" y="436.71" width="9.90" height="35.59" fill="#582871"/>
<line x1="74.50" y1="391.90" x2="74.50" y2="379.20" stroke="#111" stroke-width="1.3"/>
<line x1="70.10" y1="379.50" x2="80.00" y2="379.50" stroke="#111" stroke-width="1.5"/>
<line x1="91.50" y1="416.07" x2="91.50" y2="411.60" stroke="#111" stroke-width="1.3"/>
<line x1="86.60" y1="411.50" x2="96.50" y2="411.50" stroke="#111" stroke-width="1.5"/>
<line x1="58.00" y1="369.50" x2="91.10" y2="369.50" stroke="#111" stroke-width="1.1"/>
<circle cx="69.22" cy="364.1" r="1.45" fill="#111"/>
<circle cx="73.08" cy="364.1" r="1.45" fill="#111"/>
<circle cx="76.92" cy="364.1" r="1.45" fill="#111"/>
<circle cx="80.78" cy="364.1" r="1.45" fill="#111"/>
<text transform="translate(23.2,404.5) rotate(-90)" text-anchor="middle" font-size="9.4" font-weight="bold" fill="#222" textLength="112.5" lengthAdjust="spacingAndGlyphs">Relative expression of HSP70 protein</text>
<text transform="translate(62.7,480.2) rotate(-45)" text-anchor="end" font-size="8.2" fill="#262626" stroke="#262626" stroke-width="0.12">SCR</text>
<text transform="translate(79.8,480.2) rotate(-45)" text-anchor="end" font-size="8.2" fill="#262626" stroke="#262626" stroke-width="0.12">shRPS19</text>
<text transform="translate(96.4,480.2) rotate(-45)" text-anchor="end" font-size="8.2" fill="#262626" stroke="#262626" stroke-width="0.12">shRPL11</text>
<text transform="translate(112.8,480.2) rotate(-45)" text-anchor="end" font-size="8.2" fill="#262626" stroke="#262626" stroke-width="0.12">shRPL5</text>
<line x1="164.50" y1="337.00" x2="164.50" y2="471.30" stroke="#111" stroke-width="1.2"/>
<line x1="163.80" y1="471.50" x2="311.00" y2="471.50" stroke="#111" stroke-width="1.2"/>
<line x1="160.90" y1="471.50" x2="164.40" y2="471.50" stroke="#111" stroke-width="1"/>
<text x="157.9" y="474.30" text-anchor="end" font-size="8.2" fill="#333">0.0</text>
<line x1="160.90" y1="438.50" x2="164.40" y2="438.50" stroke="#111" stroke-width="1"/>
<text x="157.9" y="441.53" text-anchor="end" font-size="8.2" fill="#333">0.3</text>
<line x1="160.90" y1="405.50" x2="164.40" y2="405.50" stroke="#111" stroke-width="1"/>
<text x="157.9" y="408.75" text-anchor="end" font-size="8.2" fill="#333">0.6</text>
<line x1="160.90" y1="372.50" x2="164.40" y2="372.50" stroke="#111" stroke-width="1"/>
<text x="157.9" y="375.98" text-anchor="end" font-size="8.2" fill="#333">0.9</text>
<line x1="160.90" y1="340.50" x2="164.40" y2="340.50" stroke="#111" stroke-width="1"/>
<text x="157.9" y="343.20" text-anchor="end" font-size="8.2" fill="#333">1.2</text>
<text x="200.8" y="331.2" font-size="8.8" fill="#1e1e1e" stroke="#1e1e1e" stroke-width="0.2" textLength="74.3" lengthAdjust="spacingAndGlyphs">erythroid cells D7</text>
<line x1="190.60" y1="353.50" x2="257.50" y2="353.50" stroke="#111" stroke-width="1.2"/>
<circle cx="218.22" cy="348.5" r="1.45" fill="#111"/>
<circle cx="222.07" cy="348.5" r="1.45" fill="#111"/>
<circle cx="225.93" cy="348.5" r="1.45" fill="#111"/>
<circle cx="229.78" cy="348.5" r="1.45" fill="#111"/>
<text transform="translate(141,404) rotate(-90)" text-anchor="middle" font-size="9.4" font-weight="bold" fill="#222" textLength="127" lengthAdjust="spacingAndGlyphs">Relative expression of cytoplasmic HSP70</text>
<line x1="172.00" y1="372.50" x2="196.20" y2="372.50" stroke="#111" stroke-width="1.3"/>
<circle cx="177.80" cy="372.3" r="1.75" fill="#62a848"/>
<circle cx="180.90" cy="372.3" r="1.75" fill="#62a848"/>
<circle cx="184.00" cy="372.3" r="1.75" fill="#62a848"/>
<circle cx="187.10" cy="372.3" r="1.75" fill="#62a848"/>
<circle cx="190.20" cy="372.3" r="1.75" fill="#62a848"/>
<line x1="208.50" y1="392.50" x2="232.40" y2="392.50" stroke="#111" stroke-width="1.3"/>
<line x1="220.50" y1="368.00" x2="220.50" y2="416.50" stroke="#111" stroke-width="1.2"/>
<line x1="215.00" y1="368.50" x2="226.30" y2="368.50" stroke="#111" stroke-width="1.2"/>
<line x1="214.50" y1="416.50" x2="226.30" y2="416.50" stroke="#111" stroke-width="1.2"/>
<rect x="218.8" y="361.79999999999995" width="3.2" height="3.2" fill="#6cb0e2"/>
<rect x="218.8" y="378.4" width="3.2" height="3.2" fill="#6cb0e2"/>
<rect x="218.8" y="409.4" width="3.2" height="3.2" fill="#6cb0e2"/>
<rect x="218.8" y="411.9" width="3.2" height="3.2" fill="#6cb0e2"/>
<line x1="244.50" y1="426.50" x2="268.70" y2="426.50" stroke="#111" stroke-width="1.3"/>
<line x1="256.50" y1="421.20" x2="256.50" y2="433.30" stroke="#111" stroke-width="1.1"/>
<line x1="250.50" y1="421.50" x2="262.50" y2="421.50" stroke="#111" stroke-width="1.2"/>
<line x1="250.50" y1="433.50" x2="262.50" y2="433.50" stroke="#111" stroke-width="1.2"/>
<rect x="255.0" y="419.0" width="3" height="3" fill="#e4951f"/>
<rect x="256.0" y="424.5" width="3" height="3" fill="#e4951f"/>
<rect x="255.0" y="430.5" width="3" height="3" fill="#e4951f"/>
<line x1="281.20" y1="440.50" x2="305.00" y2="440.50" stroke="#111" stroke-width="1.3"/>
<path d="M290.8,436.6 L295,436.6 L292.9,440 Z" fill="#222"/>
<text transform="translate(183.2,479.8) rotate(-45)" text-anchor="end" font-size="8.2" fill="#262626" stroke="#262626" stroke-width="0.12">SCR</text>
<text transform="translate(225.7,479.8) rotate(-45)" text-anchor="end" font-size="8.2" fill="#262626" stroke="#262626" stroke-width="0.12">shRPS19</text>
<text transform="translate(262.2,479.8) rotate(-45)" text-anchor="end" font-size="8.2" fill="#262626" stroke="#262626" stroke-width="0.12">shRPL11</text>
<text transform="translate(298.2,479.8) rotate(-45)" text-anchor="end" font-size="8.2" fill="#262626" stroke="#262626" stroke-width="0.12">shRPL5</text>
<line x1="354.50" y1="337.00" x2="354.50" y2="471.80" stroke="#111" stroke-width="1.2"/>
<line x1="354.40" y1="471.50" x2="500.80" y2="471.50" stroke="#111" stroke-width="1.2"/>
<line x1="351.50" y1="471.50" x2="355.00" y2="471.50" stroke="#111" stroke-width="1"/>
<text x="348.5" y="474.80" text-anchor="end" font-size="8.2" fill="#333">0.0</text>
<line x1="351.50" y1="427.50" x2="355.00" y2="427.50" stroke="#111" stroke-width="1"/>
<text x="348.5" y="430.80" text-anchor="end" font-size="8.2" fill="#333">0.5</text>
<line x1="351.50" y1="383.50" x2="355.00" y2="383.50" stroke="#111" stroke-width="1"/>
<text x="348.5" y="386.80" text-anchor="end" font-size="8.2" fill="#333">1.0</text>
<line x1="351.50" y1="339.50" x2="355.00" y2="339.50" stroke="#111" stroke-width="1"/>
<text x="348.5" y="342.80" text-anchor="end" font-size="8.2" fill="#333">1.5</text>
<text x="390.9" y="331.2" font-size="8.8" fill="#1e1e1e" stroke="#1e1e1e" stroke-width="0.2" textLength="73.7" lengthAdjust="spacingAndGlyphs">erythroid cells D7</text>
<line x1="370.30" y1="366.50" x2="449.80" y2="366.50" stroke="#111" stroke-width="1.1"/>
<circle cx="404.53" cy="361.3" r="1.45" fill="#111"/>
<circle cx="408.38" cy="361.3" r="1.45" fill="#111"/>
<circle cx="412.23" cy="361.3" r="1.45" fill="#111"/>
<circle cx="416.07" cy="361.3" r="1.45" fill="#111"/>
<text transform="translate(331,403.9) rotate(-90)" text-anchor="middle" font-size="9.4" font-weight="bold" fill="#222" textLength="112" lengthAdjust="spacingAndGlyphs">Relative expression of nucleic HSP70</text>
<line x1="360.00" y1="383.50" x2="385.00" y2="383.50" stroke="#111" stroke-width="1.3"/>
<line x1="368.30" y1="383.50" x2="377.30" y2="383.50" stroke="#78b060" stroke-width="3"/>
<line x1="397.30" y1="395.50" x2="422.00" y2="395.50" stroke="#111" stroke-width="1.3"/>
<line x1="410.50" y1="383.00" x2="410.50" y2="408.50" stroke="#111" stroke-width="1.1"/>
<line x1="402.90" y1="382.50" x2="415.60" y2="382.50" stroke="#111" stroke-width="1.2"/>
<line x1="402.90" y1="408.50" x2="415.60" y2="408.50" stroke="#111" stroke-width="1.2"/>
<rect x="408.5" y="382.5" width="3" height="3" fill="#6cb0e2"/>
<rect x="408.5" y="405.5" width="3" height="3" fill="#6cb0e2"/>
<line x1="433.80" y1="415.50" x2="458.20" y2="415.50" stroke="#111" stroke-width="1.3"/>
<line x1="446.50" y1="406.70" x2="446.50" y2="425.30" stroke="#111" stroke-width="1.1"/>
<line x1="440.00" y1="406.50" x2="451.80" y2="406.50" stroke="#111" stroke-width="1.2"/>
<line x1="440.00" y1="425.50" x2="451.80" y2="425.50" stroke="#111" stroke-width="1.2"/>
<rect x="444.5" y="406.0" width="3" height="3" fill="#e4951f"/>
<rect x="444.5" y="423.0" width="3" height="3" fill="#e4951f"/>
<line x1="470.00" y1="442.50" x2="495.00" y2="442.50" stroke="#111" stroke-width="1.6"/>
<rect x="480.8" y="441" width="2.4" height="2.6" fill="#222"/>
<text transform="translate(376.7,480.2) rotate(-45)" text-anchor="end" font-size="8.2" fill="#262626" stroke="#262626" stroke-width="0.12">SCR</text>
<text transform="translate(413.7,480.2) rotate(-45)" text-anchor="end" font-size="8.2" fill="#262626" stroke="#262626" stroke-width="0.12">shRPS19</text>
<text transform="translate(449.7,480.2) rotate(-45)" text-anchor="end" font-size="8.2" fill="#262626" stroke="#262626" stroke-width="0.12">shRPL11</text>
<text transform="translate(484.7,480.2) rotate(-45)" text-anchor="end" font-size="8.2" fill="#262626" stroke="#262626" stroke-width="0.12">shRPL5</text>
<rect x="0" y="0" width="520" height="1" fill="#000"/><rect x="0" y="1" width="520" height="1" fill="#aaa"/>
<rect x="0" y="510" width="520" height="1" fill="#000"/><rect x="0" y="509" width="520" height="1" fill="#777"/>
<rect x="0" y="0" width="1" height="511" fill="#000"/><rect x="1" y="0" width="1" height="511" fill="#888"/>
<rect x="519" y="0" width="1" height="511" fill="#000"/><rect x="518" y="0" width="1" height="511" fill="#666"/>
</svg></body></html>
